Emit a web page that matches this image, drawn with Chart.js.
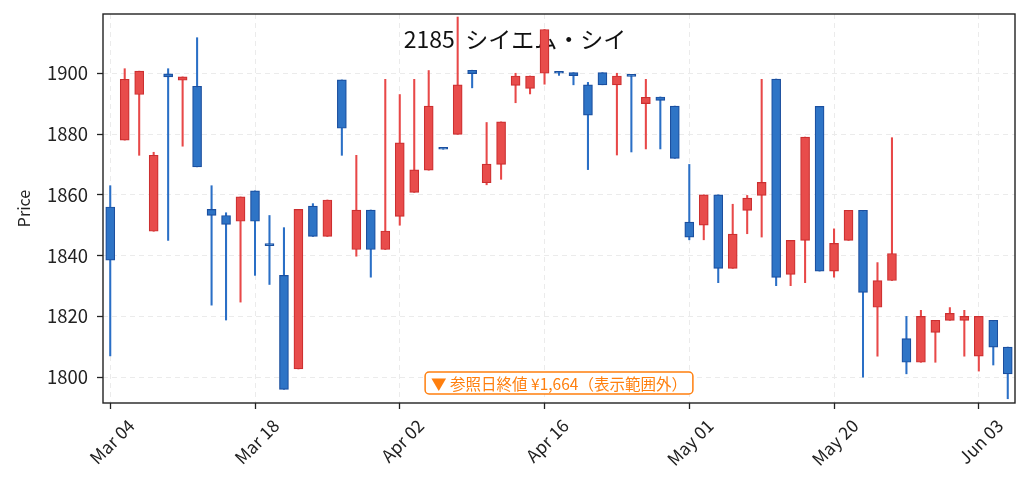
<!DOCTYPE html>
<html>
<head>
<meta charset="utf-8">
<script src="https://cdn.jsdelivr.net/npm/chart.js@4.4.1/dist/chart.umd.min.js"></script>
<style>
  html, body { margin: 0; padding: 0; background: #fff; }
  #c { display: block; }
</style>
</head>
<body>
<canvas id="c" width="1029" height="491"></canvas>
<script>
// trading days (index 0..62)
var dates = [
    'Mar 04', 'Mar 05', 'Mar 06', 'Mar 07', 'Mar 08',
    'Mar 11', 'Mar 12', 'Mar 13', 'Mar 14', 'Mar 15',
    'Mar 18', 'Mar 19', 'Mar 21', 'Mar 22',
    'Mar 25', 'Mar 26', 'Mar 27', 'Mar 28', 'Mar 29',
    'Apr 01', 'Apr 02', 'Apr 03', 'Apr 04', 'Apr 05',
    'Apr 08', 'Apr 09', 'Apr 10', 'Apr 11', 'Apr 12',
    'Apr 15', 'Apr 16', 'Apr 17', 'Apr 18', 'Apr 19',
    'Apr 22', 'Apr 23', 'Apr 24', 'Apr 25', 'Apr 26',
    'Apr 30', 'May 01',
    'May 07', 'May 08', 'May 09', 'May 10',
    'May 13', 'May 14', 'May 15', 'May 16', 'May 17',
    'May 20', 'May 21', 'May 22', 'May 23', 'May 24',
    'May 27', 'May 28', 'May 29', 'May 30', 'May 31',
    'Jun 03', 'Jun 04', 'Jun 05'
];
var opens = [
    1856, 1878, 1893, 1848, 1899.8, 1897.7, 1895.7, 1855.2, 1853.2, 1851.3,
    1861.3, 1843.6, 1833.5, 1802.7, 1856.3, 1846.3, 1897.8, 1842, 1855, 1842,
    1852.9, 1860.8, 1868.1, 1875.2, 1879.9, 1901, 1864, 1870, 1896, 1895,
    1900, 1900.3, 1900.2, 1896.2, 1900.2, 1896.2, 1899.3, 1890, 1892.2, 1889.2,
    1851, 1850, 1860, 1835.8, 1854.9, 1859.8, 1898.1, 1833.8, 1845, 1889.1,
    1834.9, 1845, 1854.9, 1823, 1831.8, 1812.7, 1804.9, 1814.7, 1818.7, 1818.7,
    1806.9, 1818.7, 1809.9
];
var highs = [
    1863, 1901.5, 1900.7, 1874, 1901.5, 1898.8, 1911.7, 1863, 1854.1, 1859.3,
    1861.3, 1853.2, 1849.2, 1855.2, 1857.1, 1858.3, 1897.8, 1873, 1855, 1898,
    1893, 1898, 1900.9, 1875.2, 1918.5, 1901, 1883.8, 1884, 1900, 1899.1,
    1914.4, 1900.3, 1900.2, 1897, 1900.2, 1900, 1899.3, 1898, 1892.2, 1889.2,
    1870, 1860, 1860, 1856.9, 1859.8, 1898, 1898.1, 1845, 1879, 1889.1,
    1848.8, 1854.9, 1854.9, 1837.7, 1878.8, 1820, 1822, 1818.7, 1822.9, 1822,
    1820, 1818.7, 1809.9
];
var lows = [
    1807, 1878, 1873, 1848, 1845, 1876, 1869.2, 1823.7, 1818.8, 1824.7,
    1833.5, 1830.5, 1796, 1802.7, 1846.3, 1846.3, 1873, 1839.8, 1832.9, 1842,
    1850, 1860.8, 1868.1, 1875, 1879.9, 1895.2, 1863.3, 1865.1, 1890.3, 1893.2,
    1896.4, 1899.3, 1896.2, 1868.3, 1896.2, 1873.1, 1874.1, 1875.1, 1875.1, 1872,
    1845.2, 1845.2, 1831.1, 1835.8, 1847.2, 1846.1, 1830.1, 1830.1, 1831.1, 1834.9,
    1832.9, 1845, 1800, 1806.9, 1831.8, 1801.1, 1804.9, 1804.9, 1818.7, 1806.9,
    1802, 1804, 1792.9
];
var closes = [
    1838.5, 1898, 1900.7, 1873, 1898.8, 1898.8, 1869.2, 1853.2, 1850.3, 1859.3,
    1851.3, 1843.3, 1796, 1855.2, 1846.3, 1858.3, 1881.9, 1855, 1842, 1848.1,
    1877.1, 1868.2, 1889.2, 1875, 1896.2, 1899.9, 1870.1, 1884, 1899.1, 1899.1,
    1914.4, 1900, 1899.2, 1886.2, 1896.2, 1899.1, 1899, 1892.1, 1891.1, 1872,
    1846.1, 1860, 1835.8, 1847.1, 1858.9, 1864.1, 1832.8, 1845, 1879, 1834.9,
    1844, 1854.9, 1827.9, 1831.8, 1840.7, 1804.9, 1820, 1818.7, 1821, 1820,
    1820, 1809.9, 1801.1
];
var yTicks = [1800, 1820, 1840, 1860, 1880, 1900];
var xTickIdx = [0, 10, 20, 30, 40, 50, 60];
var refClose = 1664;
var titleText = '2185  シイエム・シイ';

var UP_FILL = '#e84c4b', UP_EDGE = '#cc2f30', UP_WICK = '#e84848';
var DN_FILL = '#2e74c6', DN_EDGE = '#1b4f9f', DN_WICK = '#2a6fc6';
var FONT = "'Noto Sans CJK JP', 'Noto Sans', sans-serif";

var isUp = opens.map(function (o, i) { return closes[i] >= o; });

var decor = {
    id: 'decor',
    beforeDatasetsDraw: function (chart) {
        var ctx = chart.ctx, a = chart.chartArea;
        ctx.save();
        ctx.font = '23px ' + FONT;
        ctx.fillStyle = '#111';
        ctx.textAlign = 'center';
        ctx.textBaseline = 'middle';
        ctx.fillText(titleText, a.left + 412, a.top + 25);
        ctx.restore();
    },
    afterDraw: function (chart) {
        var ctx = chart.ctx, a = chart.chartArea;
        ctx.save();
        // frame
        ctx.strokeStyle = '#222';
        ctx.lineWidth = 1.4;
        ctx.strokeRect(a.left, a.top, a.right - a.left, a.bottom - a.top);
        // out-of-range note
        var txt = '▼ 参照日終値 ¥' + refClose.toLocaleString('en-US') + '（表示範囲外）';
        ctx.font = '15.5px ' + FONT;
        var w = ctx.measureText(txt).width + 12, h = 22;
        var cx = (a.left + a.right) / 2, cy = a.bottom - 20;
        ctx.beginPath();
        ctx.roundRect(cx - w / 2, cy - h / 2, w, h, 4);
        ctx.fillStyle = '#fff';
        ctx.fill();
        ctx.strokeStyle = '#ff7f0e';
        ctx.lineWidth = 1.5;
        ctx.stroke();
        ctx.fillStyle = '#ff7f0e';
        ctx.textAlign = 'center';
        ctx.textBaseline = 'middle';
        ctx.fillText(txt, cx, cy + 1);
        ctx.restore();
    }
};

var cfg = {
    type: 'bar',
    data: {
        labels: dates,
        datasets: [
            {
                label: 'wick',
                data: lows.map(function (l, i) { return [l, highs[i]]; }),
                backgroundColor: isUp.map(function (u) { return u ? UP_WICK : DN_WICK; }),
                barThickness: 1.4,
                grouped: false,
                order: 2
            },
            {
                label: 'body',
                data: opens.map(function (o, i) { return [o, closes[i]]; }),
                backgroundColor: isUp.map(function (u) { return u ? UP_FILL : DN_FILL; }),
                borderColor: isUp.map(function (u) { return u ? UP_EDGE : DN_EDGE; }),
                borderWidth: 1.2,
                borderSkipped: false,
                barThickness: 9,
                minBarLength: 2,
                grouped: false,
                order: 1
            }
        ]
    },
    plugins: [decor],
    options: {
        responsive: false,
        animation: false,
        layout: { padding: { top: 14, right: 14, left: 0, bottom: 0 } },
        plugins: { legend: { display: false }, tooltip: { enabled: false } },
        scales: {
            x: {
                offset: true,
                afterBuildTicks: function (s) {
                    s.ticks = xTickIdx.map(function (v) { return { value: v }; });
                },
                afterFit: function (s) {
                    s.height = 88;
                    s.paddingLeft = 0; s.paddingRight = 0;
                },
                grid: { offset: false, color: '#ebebeb', lineWidth: 1, tickLength: 6, tickColor: '#222', tickWidth: 1.3 },
                border: { display: false, dash: [5, 4] },
                ticks: {
                    autoSkip: false,
                    minRotation: 45,
                    maxRotation: 45,
                    labelOffset: 21,
                    padding: 6,
                    color: '#222',
                    font: { family: FONT, size: 17.5 }
                }
            },
            y: {
                min: 1791.5,
                max: 1919.5,
                afterBuildTicks: function (s) {
                    s.ticks = yTicks.map(function (v) { return { value: v }; });
                },
                afterFit: function (s) {
                    s.width = 103;
                    s.paddingTop = 0; s.paddingBottom = 0;
                },
                grid: { color: '#ebebeb', lineWidth: 1, tickLength: 6, tickColor: '#222', tickWidth: 1.3 },
                border: { display: false, dash: [5, 4] },
                ticks: {
                    padding: 9,
                    color: '#222',
                    font: { family: FONT, size: 18.5 },
                    callback: function (v) { return String(v); }
                },
                title: {
                    display: true,
                    text: 'Price',
                    color: '#222',
                    font: { family: FONT, size: 16 },
                    padding: { top: 14, bottom: 4 }
                }
            }
        }
    }
};

new Chart(document.getElementById('c'), cfg);
</script>
</body>
</html>
